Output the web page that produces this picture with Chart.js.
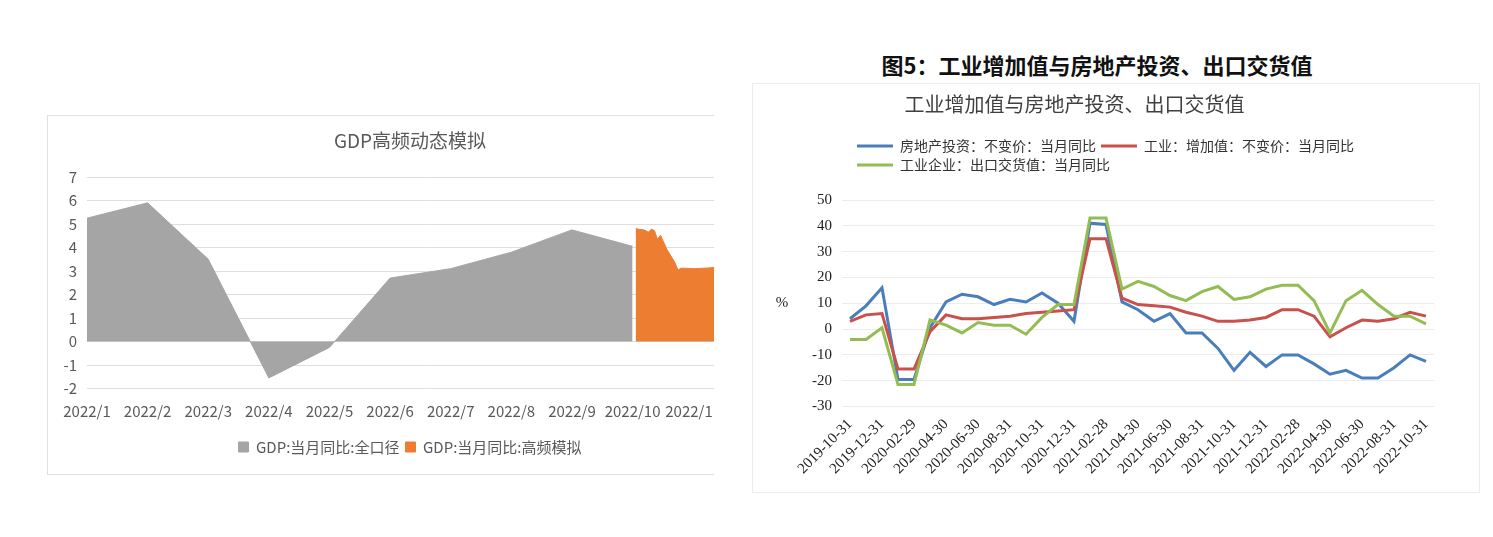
<!DOCTYPE html>
<html>
<head>
<meta charset="utf-8">
<title>GDP高频动态模拟 / 工业增加值与房地产投资、出口交货值</title>
<script src="https://cdn.jsdelivr.net/npm/chart.js@4.4.1/dist/chart.umd.min.js"></script>
<style>
body { margin: 0; background: #fff; width: 1493px; height: 537px; position: relative; overflow: hidden; }
#leftCard { position: absolute; left: 47px; top: 115px; width: 667px; height: 360px; overflow: hidden;
	border: 1px solid #e0e0e0; border-right: none; box-sizing: border-box; }
#leftInner { position: absolute; left: 0; top: 0; width: 736px; height: 358px; }
#caption { position: absolute; left: 797px; top: 48px; width: 600px; line-height: 30px; text-align: center;
	font: bold 22px "Noto Sans CJK SC", sans-serif; color: #111; }
#rightCard { position: absolute; left: 752px; top: 83px; width: 728px; height: 410px;
	border: 1px solid #ececec; box-sizing: border-box; }
#rightInner { position: absolute; left: 0; top: 0; width: 726px; height: 408px; }
</style>
</head>
<body>
<div id="leftCard"><div id="leftInner"><canvas id="gdpChart"></canvas></div></div>
<div id="caption">图5：工业增加值与房地产投资、出口交货值</div>
<div id="rightCard"><div id="rightInner"><canvas id="indChart"></canvas></div></div>
<script>
// 左图：GDP高频动态模拟（x 以月为单位，0 = 2022/1）
var gdpMonthLabels = ['2022/1', '2022/2', '2022/3', '2022/4', '2022/5', '2022/6',
	'2022/7', '2022/8', '2022/9', '2022/10', '2022/11'];
var gdpFullCaliber = [5.25, 5.9, 3.5, -1.55, -0.25, 2.7, 3.1, 3.8, 4.75, 4.05];
var gdpSimPos = [9.05, 9.2, 9.26, 9.31, 9.36, 9.41, 9.46, 9.57, 9.69, 9.75, 9.8, 10.02, 10.25, 10.4];
var gdpSimValues = [4.8, 4.74, 4.65, 4.78, 4.72, 4.35, 4.52, 3.9, 3.4, 3.04, 3.12, 3.1, 3.13, 3.17];

// 右图：工业增加值与房地产投资、出口交货值（当月同比，%）
var indDates = ['2019-10-31', '2019-11-30', '2019-12-31', '2020-01-31', '2020-02-29', '2020-03-31',
	'2020-04-30', '2020-05-31', '2020-06-30', '2020-07-31', '2020-08-31', '2020-09-30',
	'2020-10-31', '2020-11-30', '2020-12-31', '2021-01-31', '2021-02-28', '2021-03-31',
	'2021-04-30', '2021-05-31', '2021-06-30', '2021-07-31', '2021-08-31', '2021-09-30',
	'2021-10-31', '2021-11-30', '2021-12-31', '2022-01-31', '2022-02-28', '2022-03-31',
	'2022-04-30', '2022-05-31', '2022-06-30', '2022-07-31', '2022-08-31', '2022-09-30', '2022-10-31'];
var realEstateInv = [4, 9, 16, -19.5, -19.5, 0.5, 10.5, 13.5, 12.5, 9.5, 11.5, 10.5,
	14, 10, 3, 41, 40.5, 10.5, 7.5, 3, 6, -1.5, -1.5, -7.5,
	-16, -9, -14.5, -10, -10, -13.5, -17.5, -16, -19, -19, -15, -10, -12.5];
var industryVA = [3, 5.5, 6, -15.5, -15.5, -1, 5.5, 4, 4, 4.5, 5, 6,
	6.5, 7, 7.5, 35, 35, 12, 9.5, 9, 8.5, 6.5, 5, 3,
	3, 3.5, 4.5, 7.5, 7.5, 5, -3, 0.5, 3.5, 3, 4, 6.5, 5];
var exportDelivery = [-4, -4, 0.5, -21.5, -21.5, 3.5, 1.5, -1.5, 2.5, 1.5, 1.5, -2,
	4.5, 9.5, 9.5, 43, 43, 15.5, 18.5, 16.5, 13, 11, 14.5, 16.5,
	11.5, 12.5, 15.5, 17, 17, 11, -1.5, 11, 15, 9.5, 5, 5, 2];

Chart.defaults.font.family = '"Noto Sans CJK SC", "Noto Sans", sans-serif';
Chart.defaults.animation = false;

var serif = '"Liberation Serif", "DejaVu Serif", serif';

// 左图
var gdpChart = new Chart(document.getElementById('gdpChart'), {
	type: 'line',
	data: {
		datasets: [{
			label: 'GDP:当月同比:全口径',
			data: gdpFullCaliber.map(function (v, i) { return { x: i, y: v }; }),
			backgroundColor: '#a5a5a5',
			borderColor: '#a5a5a5',
			borderWidth: 1,
			fill: 'origin',
			pointRadius: 0,
			tension: 0
		}, {
			label: 'GDP:当月同比:高频模拟',
			data: gdpSimPos.map(function (x, i) { return { x: x, y: gdpSimValues[i] }; }),
			backgroundColor: '#ed7d31',
			borderColor: '#ed7d31',
			borderWidth: 1,
			fill: 'origin',
			pointRadius: 0,
			tension: 0
		}]
	},
	options: {
		responsive: true,
		maintainAspectRatio: false,
		layout: { padding: { right: 12, bottom: 9.5 } },
		plugins: {
			title: {
				display: true,
				text: 'GDP高频动态模拟',
				color: '#595959',
				font: { size: 19, weight: 'normal' },
				padding: { top: 13, bottom: 25.2 }
			},
			legend: {
				position: 'bottom',
				labels: { boxWidth: 10, boxHeight: 10, padding: 6, color: '#595959', font: { size: 15 } }
			},
			tooltip: { enabled: false }
		},
		scales: {
			x: {
				type: 'linear',
				min: 0,
				max: 11.3,
				grid: { display: false },
				border: { display: false },
				ticks: {
					stepSize: 1,
					includeBounds: false,
					autoSkip: false,
					maxRotation: 0,
					padding: 6,
					color: '#595959',
					font: { size: 15 },
					callback: function (v) { return gdpMonthLabels[v]; }
				},
				afterFit: function (s) { s.height = 45; }
			},
			y: {
				min: -2,
				max: 7,
				grid: { color: '#dedede', drawTicks: false },
				border: { display: false },
				ticks: { stepSize: 1, padding: 10, color: '#595959', font: { size: 15 } },
				afterFit: function (s) { s.width = 39; }
			}
		}
	}
});

// 右图：标题、图例位置和纵轴 "%" 标注
var rightTweaks = {
	id: 'rightTweaks',
	afterLayout: function (chart) {
		var lg = chart.legend;
		lg.top -= 18;
		lg.bottom -= 18;
		lg.left = 99;
		lg.right = lg.left + lg.width;
		chart.titleBlock.left -= 19;
		chart.titleBlock.right -= 19;
	},
	afterDraw: function (chart) {
		var ctx = chart.ctx;
		var a = chart.chartArea;
		ctx.save();
		ctx.font = '15px ' + serif;
		ctx.fillStyle = '#222';
		ctx.textAlign = 'center';
		ctx.textBaseline = 'middle';
		ctx.fillText('%', 29, (a.top + a.bottom) / 2);
		ctx.restore();
	}
};

function serie(label, data, color, order) {
	return {
		label: label,
		data: data,
		borderColor: color,
		backgroundColor: color,
		borderWidth: 3,
		pointRadius: 0,
		fill: false,
		tension: 0,
		order: order
	};
}

var indChart = new Chart(document.getElementById('indChart'), {
	type: 'line',
	data: {
		labels: indDates,
		datasets: [
			serie('房地产投资：不变价：当月同比', realEstateInv, '#4a7ebb', 3),
			serie('工业：增加值：不变价：当月同比', industryVA, '#c9504b', 2),
			serie('工业企业：出口交货值：当月同比', exportDelivery, '#93bd52', 1)
		]
	},
	options: {
		responsive: true,
		maintainAspectRatio: false,
		layout: { padding: { right: 45 } },
		plugins: {
			title: {
				display: true,
				text: '工业增加值与房地产投资、出口交货值',
				color: '#404040',
				font: { size: 20, weight: 'normal' },
				padding: { top: 8, bottom: 36 }
			},
			legend: {
				position: 'top',
				align: 'start',
				fullSize: false,
				labels: {
					usePointStyle: true,
					pointStyle: 'line',
					pointStyleWidth: 36,
					padding: 5,
					color: '#333',
					font: { size: 14 },
					sort: function (a, b) { return a.datasetIndex - b.datasetIndex; }
				}
			},
			tooltip: { enabled: false }
		},
		scales: {
			x: {
				offset: true,
				grid: { display: false },
				border: { display: false },
				ticks: {
					autoSkip: false,
					minRotation: 45,
					maxRotation: 45,
					padding: 1,
					color: '#222',
					font: { family: serif, size: 15 },
					callback: function (v, i) { return i % 2 === 0 ? indDates[i] : ''; }
				},
				afterFit: function (s) { s.height = 85.5; }
			},
			y: {
				min: -30,
				max: 50,
				grid: { color: '#ececec', drawTicks: false },
				border: { display: false },
				ticks: { stepSize: 10, padding: 10, color: '#222', font: { family: serif, size: 15 } },
				afterFit: function (s) { s.width = 89; }
			}
		}
	},
	plugins: [rightTweaks]
});
</script>
</body>
</html>
